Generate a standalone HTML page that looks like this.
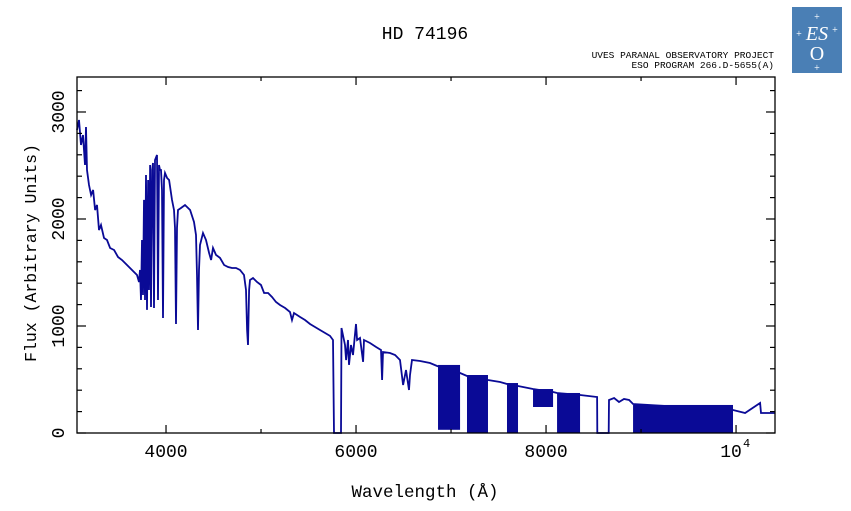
<!DOCTYPE html>
<html><head><meta charset="utf-8"><style>
html,body{margin:0;padding:0;background:#fff;}
svg{display:block;font-family:"Liberation Mono",monospace;}
</style></head><body>
<svg id="chart" width="851" height="511" viewBox="0 0 851 511">
<text x="425" y="39" text-anchor="middle" font-size="18">HD 74196</text>
<text x="774" y="58" text-anchor="end" font-size="9.5">UVES PARANAL OBSERVATORY PROJECT</text>
<text x="774" y="68" text-anchor="end" font-size="9.5">ESO PROGRAM 266.D-5655(A)</text>
<g font-family="Liberation Serif,serif">
<rect x="792" y="7" width="50" height="66" fill="#4a7fb5"/>
<text x="817" y="40" text-anchor="middle" font-size="20" fill="#fff" font-style="italic">ES</text>
<text x="817" y="60" text-anchor="middle" font-size="20" fill="#fff">O</text>
<text x="817" y="20" text-anchor="middle" font-size="10" fill="#fff">+</text>
<text x="799" y="37" text-anchor="middle" font-size="10" fill="#fff">+</text>
<text x="835" y="33" text-anchor="middle" font-size="10" fill="#fff">+</text>
<text x="817" y="71" text-anchor="middle" font-size="10" fill="#fff">+</text>
</g>
<g id="plot"></g>
<text x="425" y="497" text-anchor="middle" font-size="17.5">Wavelength (Å)</text>
<text transform="translate(36,253) rotate(-90)" text-anchor="middle" font-size="16.5">Flux (Arbitrary Units)</text>
</svg>
<script>
const wavelengths=[3063,3084,3105,3126,3147,3158,3168,3189,3211,3232,3253,3274,3295,3316,3347,3379,3411,3453,3495,3537,3579,3621,3663,3695,3716,3726,3737,3747,3758,3768,3779,3789,3800,3811,3821,3832,3842,3853,3863,3874,3884,3905,3916,3926,3937,3947,3958,3968,3979,3989,4011,4032,4063,4084,4095,4105,4116,4126,4158,4200,4253,4295,4316,4326,4337,4347,4358,4389,4421,4453,4474,4495,4526,4568,4611,4653,4695,4737,4779,4821,4842,4853,4863,4874,4884,4916,4958,5000,5032,5074,5116,5158,5200,5253,5305,5326,5347,5411,5463,5516,5568,5621,5674,5726,5758,5768,5836,5842,5847,5884,5895,5916,5926,5947,5968,6000,6011,6042,6074,6084,6147,6211,6263,6274,6284,6358,6411,6463,6495,6526,6558,6568,6589,6674,6779,6853,7095,7168,7389,7516,7589,7705,7863,8074,8116,8358,8537,8540,8660,8663,8716,8768,8821,8874,8916,9968,10095,10253,10263,10411];
const fluxes=[2832,2925,2692,2785,2505,2860,2458,2318,2224,2271,2084,2131,1897,1944,1822,1804,1729,1710,1645,1617,1579,1542,1505,1477,1411,1523,1243,1804,1290,2178,1243,2411,1150,2364,1336,2505,1178,2458,2523,1168,2551,2598,1243,2505,2458,2458,2271,1075,2364,2430,2383,2364,2178,2084,1916,1019,1916,2084,2103,2131,2084,1972,1850,1477,963,1523,1757,1869,1804,1682,1617,1729,1664,1636,1570,1551,1542,1542,1523,1477,1336,963,822,1336,1430,1449,1411,1383,1308,1308,1271,1224,1196,1168,1131,1056,1121,1084,1056,1019,991,963,935,907,869,0,0,0,981,822,682,869,636,822,729,1019,869,888,664,869,841,804,776,495,757,748,729,682,449,589,402,542,682,673,654,626,561,533,495,477,458,439,411,383,374,355,336,0,0,308,327,290,318,308,271,215,187,280,187,187];
const bandStart=[6863,7168,7589,7863,8116,8916];
const bandEnd=[7095,7389,7705,8074,8358,9968];
const bandTop=[636,542,467,411,374,262];
const bandFloor=[30,0,0,243,0,0];
const xTickValues=[4000,6000,8000,10000];
const xTickLabels=["4000","6000","8000","10"];
const yTickValues=[0,1000,2000,3000];
const yTickLabels=["0","1000","2000","3000"];

const X0=77,X1=775,Y0=77,Y1=433;
const xMin=3063,xMax=10410,yMin=0,yMax=3327;
function sx(v){return X0+(v-xMin)/(xMax-xMin)*(X1-X0);}
function sy(v){return Y1-(v-yMin)/(yMax-yMin)*(Y1-Y0);}
const NS="http://www.w3.org/2000/svg";
const g=document.getElementById('plot');
function mk(t,a){const e=document.createElementNS(NS,t);for(const k in a)e.setAttribute(k,a[k]);g.appendChild(e);return e;}
const col="#0a0a96";
for(let i=0;i<bandStart.length;i++){
 const x=sx(bandStart[i]),w=sx(bandEnd[i])-x,yt=sy(bandTop[i]),yb=sy(bandFloor[i]);
 const r=mk('rect',{x:x,y:yt,width:w,height:yb-yt,fill:col});
 
 
}
let d='';
for(let i=0;i<wavelengths.length;i++){d+=(i?'L':'M')+sx(wavelengths[i]).toFixed(1)+','+sy(fluxes[i]).toFixed(1);}
const p=mk('path',{d:d,fill:'none',stroke:col,'stroke-width':1.8,'stroke-linejoin':'miter'});


const fr=mk('rect',{x:X0,y:Y0,width:X1-X0,height:Y1-Y0,fill:'none',stroke:'#000','stroke-width':1.3});


for(let v=4000;v<=10000;v+=1000){
 const x=sx(v),L=(v%2000===0)?8:4;
 mk('line',{x1:x,y1:Y1,x2:x,y2:Y1-L,stroke:'#000','stroke-width':1.2});
 mk('line',{x1:x,y1:Y0,x2:x,y2:Y0+L,stroke:'#000','stroke-width':1.2});
}
for(let v=0;v<=3200;v+=200){
 const y=sy(v),L=(v%1000===0)?9:5;
 mk('line',{x1:X0,y1:y,x2:X0+L,y2:y,stroke:'#000','stroke-width':1.2});
 mk('line',{x1:X1,y1:y,x2:X1-L,y2:y,stroke:'#000','stroke-width':1.2});
}
for(let i=0;i<xTickValues.length;i++){
 const t=mk('text',{x:sx(xTickValues[i])-(i===3?5:0),y:457,'text-anchor':'middle','font-size':18});
 t.textContent=xTickLabels[i];
 
 
 if(i===3){const s=mk('text',{x:sx(xTickValues[i])+7,y:447,'font-size':12});s.textContent='4';
 
 }
}
for(let i=0;i<yTickValues.length;i++){
 const y=Math.max(sy(yTickValues[i]),i===0?427:0);
 const t=mk('text',{transform:'translate(64,'+y+') rotate(-90)','text-anchor':'middle','font-size':18});
 t.textContent=yTickLabels[i];
 
 
}
</script>
</body></html>
